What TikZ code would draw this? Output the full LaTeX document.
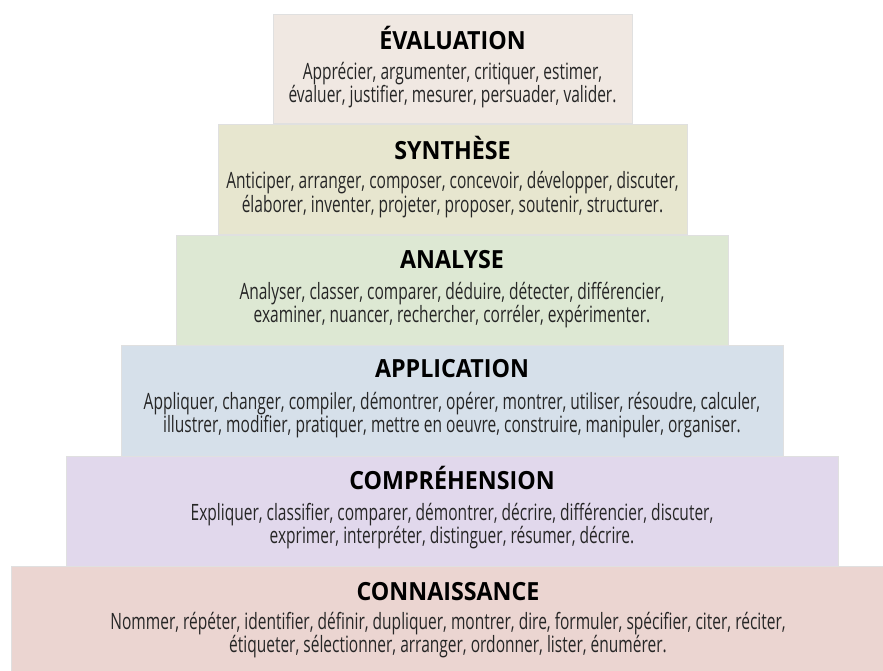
\documentclass[tikz,border=0pt]{standalone}
\usepackage{fontspec}
\setmainfont{Open Sans}
\newfontfamily\bodyfont[FakeStretch=0.69]{Open Sans}
\newfontfamily\headfont[FakeStretch=0.93]{Open Sans}
\usetikzlibrary{positioning}

\definecolor{evalcol}{HTML}{F0E8E2}
\definecolor{synthcol}{HTML}{E7E6CF}
\definecolor{analcol}{HTML}{DDE8D3}
\definecolor{applcol}{HTML}{D6E0EA}
\definecolor{comprcol}{HTML}{E1D8EC}
\definecolor{connacol}{HTML}{EBD5D1}

\tikzset{
  level/.style={rectangle, inner sep=0pt, draw=black!12, line width=0.6pt},
  levelname/.style={font=\headfont\bfseries\fontsize{25}{28}\selectfont, text=black, inner sep=0pt, anchor=base},
  levelverbs/.style={font=\bodyfont\fontsize{22.5}{20}\selectfont, text=black!85, align=center, inner sep=0pt, anchor=base}
}

\begin{document}
\begin{tikzpicture}[x=1pt, y=-1pt]
\useasboundingbox (0,0) rectangle (883,671);

% the six levels, from the top
\node[level, fill=evalcol, minimum width=359pt, minimum height=109pt] (eval) at (452.5,68.5) {};
\node[level, fill=synthcol, minimum width=469pt, minimum height=110pt] (synth) at (452.5,179.5) {};
\node[level, fill=analcol, minimum width=552pt, minimum height=110pt] (anal) at (452,290) {};
\node[level, fill=applcol, minimum width=662pt, minimum height=111pt] (appl) at (452,400.5) {};
\node[level, fill=comprcol, minimum width=772pt, minimum height=110pt] (compr) at (452,511) {};
\node[level, fill=connacol, minimum width=874pt, minimum height=108pt] (conna) at (448,620) {};

% names
\node[levelname] (evalname) at ([yshift=-36pt]eval.north) {ÉVALUATION};
\node[levelname] (synthname) at ([yshift=-35pt]synth.north) {SYNTHÈSE};
\node[levelname] (analname) at ([yshift=-34pt]anal.north) {ANALYSE};
\node[levelname] (applname) at ([yshift=-33pt]appl.north) {APPLICATION};
\node[levelname] (comprname) at ([yshift=-34pt]compr.north) {COMPRÉHENSION};
\node[levelname] (connaname) at ([yshift=-35pt]conna.north) {CONNAISSANCE};

% verbs (base = second line)
\node[levelverbs] (evalverbs) at ([yshift=-53pt]evalname.base) {Apprécier, argumenter, critiquer, estimer,\\évaluer, justifier, mesurer, persuader, valider.};
\node[levelverbs] (synthverbs) at ([yshift=-53pt]synthname.base) {Anticiper, arranger, composer, concevoir, développer, discuter,\\élaborer, inventer, projeter, proposer, soutenir, structurer.};
\node[levelverbs] (analverbs) at ([yshift=-54pt]analname.base) {Analyser, classer, comparer, déduire, détecter, différencier,\\examiner, nuancer, rechercher, corréler, expérimenter.};
\node[levelverbs] (applverbs) at ([yshift=-55pt]applname.base) {Appliquer, changer, compiler, démontrer, opérer, montrer, utiliser, résoudre, calculer,\\illustrer, modifier, pratiquer, mettre en oeuvre, construire, manipuler, organiser.};
\node[levelverbs] (comprverbs) at ([yshift=-54pt]comprname.base) {Expliquer, classifier, comparer, démontrer, décrire, différencier, discuter,\\exprimer, interpréter, distinguer, résumer, décrire.};
\node[levelverbs] (connaverbs) at ([yshift=-52pt]connaname.base) {Nommer, répéter, identifier, définir, dupliquer, montrer, dire, formuler, spécifier, citer, réciter,\\étiqueter, sélectionner, arranger, ordonner, lister, énumérer.};

\end{tikzpicture}
\end{document}
